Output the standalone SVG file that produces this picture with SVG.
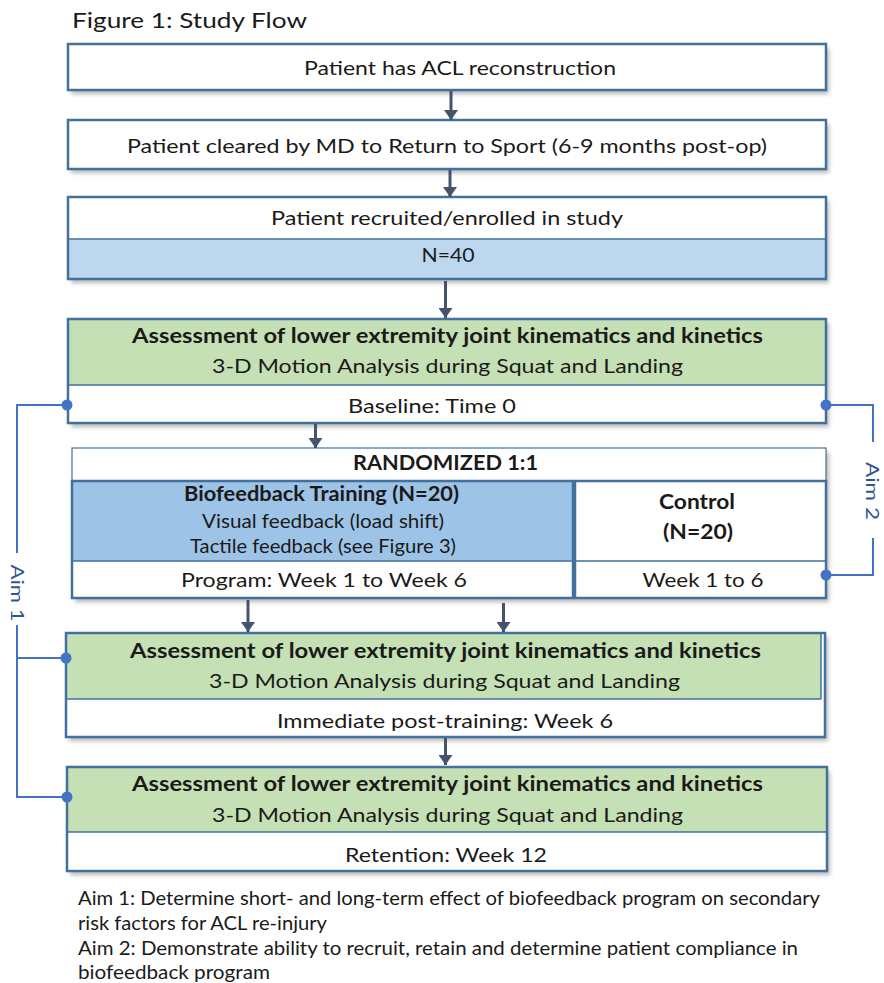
<svg xmlns="http://www.w3.org/2000/svg" width="884" height="983" viewBox="0 0 884 983">
  <defs>
    <filter id="shadow" x="-5%" y="-20%" width="110%" height="150%">
      <feDropShadow dx="3" dy="4" stdDeviation="2" flood-color="#000" flood-opacity="0.28"/>
    </filter>
    <marker id="arrow" viewBox="0 0 10 14" refX="10" refY="7" markerWidth="10" markerHeight="14" markerUnits="userSpaceOnUse" orient="auto">
      <path d="M0,0 L10,7 L0,14 Z" fill="#44546a"/>
    </marker>
  </defs>
  <style>
    text { font-family: Lato, "Open Sans", "Liberation Sans", sans-serif; fill: #1a1a1a; font-size: 20px; }
    .c { text-anchor: middle; }
    .b { font-weight: bold; }
    .title { font-size: 22px; }
    .note { font-size: 19px; }
    .aim { fill: #2f5597; font-size: 18px; text-anchor: middle; }
    .frame { fill: none; stroke: #41719c; stroke-width: 2.5; }
    .div { stroke: #41719c; stroke-width: 1.5; }
    .white { fill: #ffffff; }
    .green { fill: #c5e0b4; }
    .lblue { fill: #bdd7ee; }
    .mblue { fill: #9dc3e6; }
    .flow { stroke: #44546a; stroke-width: 3; fill: none; marker-end: url(#arrow); }
    .aimline { stroke: #4472c4; stroke-width: 2; fill: none; }
    .dot { fill: #4472c4; }
  </style>

  <rect x="0" y="0" width="884" height="983" fill="#ffffff"/>

  <text class="title" x="72" y="28" textLength="235" lengthAdjust="spacingAndGlyphs">Figure 1: Study Flow</text>

  <!-- Step 1 -->
  <g id="acl-reconstruction">
    <rect x="68" y="44" width="758" height="46" class="white" filter="url(#shadow)"/>
    <rect x="68" y="44" width="758" height="46" class="frame"/>
    <text class="c" x="460" y="75" textLength="312" lengthAdjust="spacingAndGlyphs">Patient has ACL reconstruction</text>
  </g>

  <!-- Step 2 -->
  <g id="return-to-sport">
    <rect x="68" y="120" width="758" height="49" class="white" filter="url(#shadow)"/>
    <rect x="68" y="120" width="758" height="49" class="frame"/>
    <text class="c" x="447" y="153" textLength="640" lengthAdjust="spacingAndGlyphs">Patient cleared by MD to Return to Sport (6-9 months post-op)</text>
  </g>

  <!-- Enrolment -->
  <g id="enrolment">
    <rect x="68" y="197" width="758" height="82" class="white" filter="url(#shadow)"/>
    <rect x="68" y="239" width="758" height="40" class="lblue"/>
    <line x1="68" y1="239" x2="826" y2="239" class="div"/>
    <rect x="68" y="197" width="758" height="82" class="frame"/>
    <text class="c" x="447" y="225" textLength="352" lengthAdjust="spacingAndGlyphs">Patient recruited/enrolled in study</text>
    <text class="c" x="448" y="262" textLength="53" lengthAdjust="spacingAndGlyphs">N=40</text>
  </g>

  <!-- Baseline assessment -->
  <g id="baseline">
    <rect x="68" y="319" width="758" height="104" class="white" filter="url(#shadow)"/>
    <rect x="68" y="319" width="758" height="66" class="green"/>
    <line x1="68" y1="385" x2="826" y2="385" class="div"/>
    <rect x="68" y="319" width="758" height="104" class="frame"/>
    <text class="c b" x="447.5" y="343" textLength="631" lengthAdjust="spacingAndGlyphs">Assessment of lower extremity joint kinematics and kinetics</text>
    <text class="c" x="447.5" y="373" textLength="471" lengthAdjust="spacingAndGlyphs">3-D Motion Analysis during Squat and Landing</text>
    <text class="c" x="432" y="413" textLength="168" lengthAdjust="spacingAndGlyphs">Baseline: Time 0</text>
  </g>

  <!-- Randomisation -->
  <g id="randomized">
    <rect x="72" y="448" width="754" height="150" class="white" filter="url(#shadow)"/>
    <rect x="72" y="448" width="754" height="33" fill="none" stroke="#41719c" stroke-width="1.2"/>
    <text class="c b" x="445.5" y="470" textLength="185" lengthAdjust="spacingAndGlyphs">RANDOMIZED 1:1</text>
  </g>

  <g id="biofeedback">
    <rect x="72" y="481" width="501" height="80" class="mblue"/>
    <line x1="72" y1="561" x2="573" y2="561" class="div"/>
    <rect x="72" y="481" width="501" height="117" class="frame"/>
    <text class="c b" x="321.5" y="501" textLength="275" lengthAdjust="spacingAndGlyphs">Biofeedback Training (N=20)</text>
    <text class="c" x="323" y="528" textLength="242" lengthAdjust="spacingAndGlyphs">Visual feedback (load shift)</text>
    <text class="c" x="323" y="553" textLength="266" lengthAdjust="spacingAndGlyphs">Tactile feedback (see Figure 3)</text>
    <text class="c" x="324" y="587" textLength="286" lengthAdjust="spacingAndGlyphs">Program: Week 1 to Week 6</text>
  </g>

  <g id="control">
    <line x1="575" y1="561" x2="826" y2="561" class="div"/>
    <rect x="575" y="481" width="251" height="117" class="frame"/>
    <line x1="574" y1="481" x2="574" y2="598" stroke="#41719c" stroke-width="3.5"/>
    <text class="c b" x="697" y="509" textLength="76" lengthAdjust="spacingAndGlyphs">Control</text>
    <text class="c b" x="698" y="539" textLength="70" lengthAdjust="spacingAndGlyphs">(N=20)</text>
    <text class="c" x="703" y="587" textLength="121" lengthAdjust="spacingAndGlyphs">Week 1 to 6</text>
  </g>

  <!-- Post-training assessment -->
  <g id="post-training">
    <rect x="66" y="633" width="759" height="104" class="white" filter="url(#shadow)"/>
    <rect x="66" y="633" width="755" height="66" class="green"/>
    <line x1="66" y1="699" x2="821" y2="699" class="div"/>
    <line x1="821" y1="633" x2="821" y2="699" class="div"/>
    <rect x="66" y="633" width="759" height="104" class="frame"/>
    <text class="c b" x="445.5" y="658" textLength="631" lengthAdjust="spacingAndGlyphs">Assessment of lower extremity joint kinematics and kinetics</text>
    <text class="c" x="444.5" y="688" textLength="471" lengthAdjust="spacingAndGlyphs">3-D Motion Analysis during Squat and Landing</text>
    <text class="c" x="445" y="728" textLength="336" lengthAdjust="spacingAndGlyphs">Immediate post-training: Week 6</text>
  </g>

  <!-- Retention assessment -->
  <g id="retention">
    <rect x="67" y="767" width="760" height="104" class="white" filter="url(#shadow)"/>
    <rect x="67" y="767" width="760" height="65" class="green"/>
    <line x1="67" y1="832" x2="827" y2="832" class="div"/>
    <rect x="67" y="767" width="760" height="104" class="frame"/>
    <text class="c b" x="447.5" y="791" textLength="631" lengthAdjust="spacingAndGlyphs">Assessment of lower extremity joint kinematics and kinetics</text>
    <text class="c" x="447.5" y="822" textLength="471" lengthAdjust="spacingAndGlyphs">3-D Motion Analysis during Squat and Landing</text>
    <text class="c" x="446" y="862" textLength="202" lengthAdjust="spacingAndGlyphs">Retention: Week 12</text>
  </g>

  <!-- Flow arrows and aim brackets -->
  <g id="connectors">
    <line x1="451" y1="91" x2="451" y2="120" class="flow"/>
    <line x1="450" y1="170" x2="450" y2="197" class="flow"/>
    <line x1="445.5" y1="281" x2="445.5" y2="318" class="flow"/>
    <line x1="315.5" y1="424" x2="315.5" y2="448" class="flow"/>
    <line x1="248" y1="600" x2="248" y2="632" class="flow"/>
    <line x1="503.5" y1="603" x2="503.5" y2="632" class="flow"/>
    <line x1="445.5" y1="738" x2="445.5" y2="765" class="flow"/>

    <!-- Aim 1 bracket -->
    <polyline points="67,405 17,405 17,553" class="aimline"/>
    <polyline points="17,625 17,797 67,797" class="aimline"/>
    <line x1="17" y1="658" x2="66" y2="658" class="aimline"/>
    <circle cx="67" cy="405" r="5.5" class="dot"/>
    <circle cx="66" cy="658" r="5.5" class="dot"/>
    <circle cx="67" cy="797" r="5.5" class="dot"/>

    <!-- Aim 2 bracket -->
    <polyline points="826,405 873,405 873,442" class="aimline"/>
    <polyline points="873,538 873,575 826,575" class="aimline"/>
    <circle cx="826" cy="405" r="5.5" class="dot"/>
    <circle cx="826" cy="575" r="5.5" class="dot"/>
  </g>

  <text class="aim" transform="translate(11,593) rotate(90)" textLength="57" lengthAdjust="spacingAndGlyphs">Aim 1</text>
  <text class="aim" transform="translate(866,491) rotate(90)" textLength="58" lengthAdjust="spacingAndGlyphs">Aim 2</text>

  <!-- Notes -->
  <text class="note" x="78" y="905" textLength="742" lengthAdjust="spacingAndGlyphs">Aim 1: Determine short- and long-term effect of biofeedback program on secondary</text>
  <text class="note" x="78" y="930" textLength="249" lengthAdjust="spacingAndGlyphs">risk factors for ACL re-injury</text>
  <text class="note" x="78" y="955" textLength="720" lengthAdjust="spacingAndGlyphs">Aim 2: Demonstrate ability to recruit, retain and determine patient compliance in</text>
  <text class="note" x="78" y="979" textLength="192" lengthAdjust="spacingAndGlyphs">biofeedback program</text>
</svg>
